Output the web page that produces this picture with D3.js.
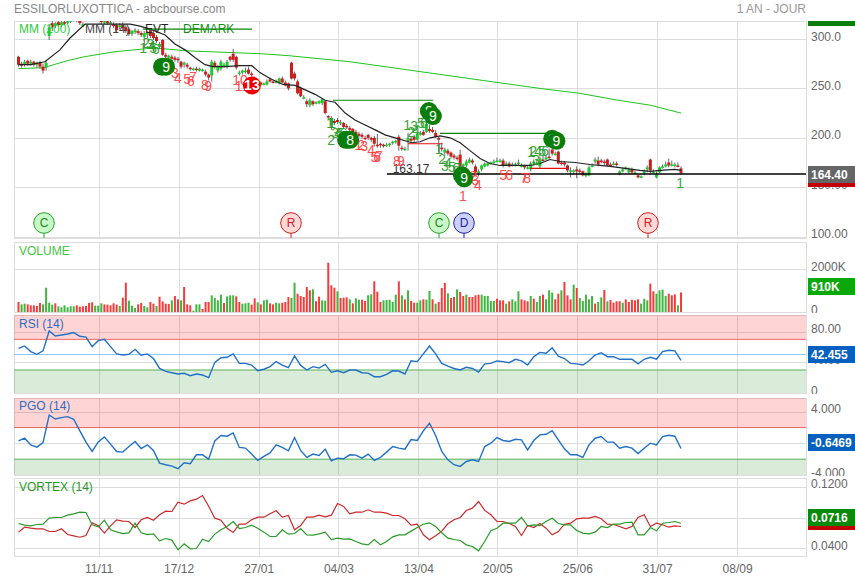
<!DOCTYPE html>
<html>
<head>
<meta charset="utf-8">
<script src="https://d3js.org/d3.v7.min.js"></script>
<style>
  body { margin: 0; background: #fff; }
  svg { display: block; font-family: "Liberation Sans", Arial, sans-serif; font-size: 12px; }
</style>
</head>
<body>
<svg id="chart" width="855" height="579"></svg>
<script>
// daily sessions
const opens = [
  282,275,274,278,275,277,274,276,272,271,
  303,316,313,317,314,317,316,318,320,321,
  319,313,322,326,327,325,326,319,317,318,
  316,315,314,312,315,312,310,305,307,308,
  306,302,305,309,306,302,292,299,284,281,
  282,281,280,277,274,274,271,270,270,268,
  268,267,264,263,276,268,270,273,272,282,
  285,282,265,266,267,269,265,260,256,256,
  254,254,259,257,256,255,260,256,255,276,
  265,257,250,241,237,233,237,236,235,235,
  237,222,213,217,218,216,215,212,210,209,
  206,204,203,200,203,200,200,193,194,193,
  193,193,195,196,201,190,189,197,199,201,
  198,203,206,206,209,208,205,200,190,185,
  187,185,182,180,183,172,172,175,177,171,
  164,168,171,172,174,175,176,177,177,174,
  174,172,173,174,172,172,170,168,174,175,
  171,178,178,181,188,184,186,175,175,172,
  167,166,168,167,166,162,162,171,176,177,
  177,176,178,173,173,174,164,166,168,165,
  168,165,162,160,166,168,178,166,160,165,
  170,171,175,173,172,172,169]
const closes = [
  274,273,277,275,277,274,276,272,268,276,
  312,312,316,314,317,316,318,319,322,319,
  316,315,324,328,325,327,323,317,318,316,
  317,313,309,314,311,308,305,308,309,306,
  304,306,306,303,301,298,295,284,282,283,
  280,279,279,272,276,272,270,270,269,270,
  269,264,261,277,272,272,277,274,277,279,
  279,271,266,268,268,265,264,258,255,254,
  255,257,257,256,257,260,256,253,250,260,
  260,245,242,241,234,238,234,236,237,239,
  225,221,220,215,216,216,211,211,208,204,
  203,202,201,199,200,198,194,192,193,192,
  193,194,196,197,192,189,189,200,197,198,
  204,205,203,214,207,206,201,198,189,188,
  184,181,180,179,171,173,176,178,175,165,
  166,172,174,174,175,176,177,177,172,174,
  171,173,173,175,172,170,170,174,176,175,
  179,177,180,180,184,184,174,174,173,167,
  167,167,166,166,162,163,170,172,178,173,
  176,175,172,172,174,173,166,168,170,168,
  165,165,160,161,166,170,167,166,163,170,
  171,173,172,173,173,171,164.4]
const highs = [
  283,277,279,279,279,278,277,278,275,278,
  314,318,317,319,318,319,320,322,324,323,
  322,317,327,330,330,329,328,320,320,320,
  319,317,316,316,317,314,312,309,311,310,
  308,308,308,311,308,304,297,300,286,284,
  284,283,282,278,277,276,272,271,272,271,
  270,269,265,279,278,274,279,276,279,283,
  290,283,268,269,271,272,267,262,258,257,
  256,259,261,258,259,261,262,258,256,277,
  267,259,252,243,239,240,238,237,238,240,
  238,223,222,219,220,218,216,214,212,210,
  208,206,205,202,204,201,202,204,195,194,
  195,195,197,198,203,192,191,205,201,203,
  206,207,208,224,213,211,208,201,195,190,
  189,186,184,182,188,174,178,180,179,173,
  168,173,175,175,176,178,180,179,179,176,
  176,175,175,178,174,173,172,176,178,178,
  181,182,182,189,191,186,187,177,176,173,
  170,168,171,169,167,165,172,174,180,181,
  179,178,179,175,176,176,167,170,171,170,
  170,167,163,162,168,172,179,168,166,171,
  173,176,179,177,175,175,171]
const lows = [
  272,271,272,273,273,272,271,270,265,268,
  299,308,311,312,312,314,315,316,318,317,
  314,312,320,324,323,322,320,315,315,314,
  315,311,307,310,309,306,303,303,305,304,
  302,292,301,301,299,296,290,283,278,279,
  277,277,276,270,271,270,268,268,267,267,
  267,262,258,257,270,266,268,271,270,277,
  277,269,263,264,265,264,262,256,253,253,
  253,253,256,255,255,254,255,252,248,259,
  258,244,241,239,231,231,232,234,234,233,
  224,218,208,213,214,213,209,209,206,203,
  202,200,199,198,198,196,191,190,190,190,
  191,191,193,194,187,187,187,187,195,196,
  197,202,202,205,205,205,200,185,186,183,
  182,179,178,177,170,169,170,174,173,163,
  161,166,170,171,173,174,175,175,170,172,
  170,171,171,172,170,168,168,166,172,173,
  169,176,177,178,182,182,173,172,171,165,
  160,163,159,163,161,160,161,170,174,171,
  174,172,171,171,172,171,162,165,168,164,
  163,163,159,159,162,165,163,164,159,164,
  169,170,170,171,170,170,163]

// volume in thousands, with the colour of each bar (R/G)
const volumes = [
  465,356,388,356,310,310,279,418,356,1130,
  434,341,403,264,217,310,217,264,264,310,
  248,264,279,418,450,295,295,403,356,341,
  310,403,341,279,667,1364,527,295,186,356,
  418,279,217,465,388,279,713,496,388,372,
  542,744,589,542,1162,356,310,62,356,356,
  140,465,465,775,651,542,806,418,728,775,
  775,728,465,388,403,434,341,635,450,356,
  542,573,403,356,434,403,434,465,697,651,
  1364,852,744,697,1162,1007,1054,496,713,542,
  527,2294,1240,1131,961,651,667,682,589,403,
  635,573,573,511,775,821,1426,945,465,542,
  558,573,465,806,1426,775,589,1007,511,434,
  434,542,589,573,976,589,388,465,1116,1349,
  868,651,697,1054,930,744,806,697,697,775,
  806,806,744,744,512,512,620,542,542,388,
  496,589,496,961,589,542,496,744,620,465,
  744,806,589,1007,899,589,852,1007,1395,775,
  589,1271,1116,651,512,806,589,744,388,465,
  682,1023,496,558,434,496,496,434,589,465,
  573,542,589,388,620,542,1318,961,852,1007,
  1038,744,852,775,821,310,910]
const volumeSides =
  "RGGRRRRRGG" + "GGRGGGGGGR" + "RRRRRGGGRR" + "RRRGRRGGGR" +
  "RGGRRGRRRR" + "GRRGRRRGGG" + "RRRGGGGRGG" + "GRRGGGRRGR" +
  "GGRRGGRRRG" + "GRRRRRGRRG" + "GRRRGRRRGR" + "GGRRGGRRRG" +
  "GGGGRGRGRR" + "GGRGG" +
  "RGRRRGRRGR" + "RGRRRRGGGG" + "GRRRGRGGGR" + "RRGRGGRGGG" +
  "RRGRRRGRGG" + "GGGRGGRGRR" + "RRGRRRRRGG" + "GRRGGGGRRR" + "GR"

// indicators, one reading every second session
const rsi = [
  58.3,61.4,54,50.5,55,81,74.4,75.7,77,78.8,74,73,60.5,68.3,70,60.5,51,49.6,50.5,57,
  49.2,51,45,32,28.3,26.5,24.8,25.7,22.6,24.8,23.5,20,40,46,46.6,51,38.7,38.7,36.5,29,
  31,34.4,41,36.5,33,48.3,36,30,34.4,32.6,37.4,27,29,26.5,30,30,26.5,26,21.3,21.3,
  24.4,29,28.7,24.8,42,41,51,61.4,51,38.7,35,32,30,33.5,32,27.4,38,38.7,41.8,41,
  39.6,44,42,36.5,47.4,53,51.8,59,48,45,38.7,38,36.5,42,49.6,52.6,47.4,47.4,44,44,
  44,38,44,46.6,44,54,55.7,55,42.455]
const pgo = [
  0.31,0.65,-0.19,-0.48,0.1,3.58,3.08,3.25,3.38,3.04,1.57,0.15,-1.03,0.19,0.82,-0.1,-1.03,-1.11,-0.4,0.23,
  -0.65,-0.19,-0.9,-2.49,-2.7,-2.87,-3.2,-2.45,-2.58,-1.45,-1.45,-2,0.31,0.99,0.9,1.32,-0.52,-0.6,-1.36,-2.16,
  -1.65,-1.2,-0.19,-0.52,-0.94,0.73,-0.9,-1.78,-1.36,-1.53,-0.73,-2.2,-1.87,-1.95,-1.45,-1.49,-1.87,-1.36,-2.16,-1.78,
  -1.11,-0.4,-0.61,-0.73,0.48,0.36,1.57,2.54,0.99,-1.03,-2.08,-2.7,-2.91,-2.29,-2.08,-2.29,-0.4,0.02,0.73,0.36,
  0.23,0.52,0.44,-0.82,0.36,1.07,1.15,1.61,0.44,-0.69,-1.45,-1.45,-1.78,-0.19,0.65,0.86,0.15,0.15,-0.61,-0.4,
  -0.61,-1.28,-0.61,0.02,-0.19,0.86,1.03,0.9,-0.6469]
const vortexPlus = [
  .0722,.0700,.0692,.0709,.0713,.0791,.0800,.0800,.0830,.0848,.0869,.0865,.0705,.0679,.0765,.0640,.0614,.0592,.0601,.0726,
  .0601,.0579,.0588,.0497,.0527,.0506,.0380,.0458,.0393,.0397,.0519,.0488,.0584,.0640,.0683,.0748,.0657,.0670,.0700,.0661,
  .0610,.0553,.0553,.0640,.0584,.0592,.0657,.0575,.0571,.0588,.0610,.0514,.0532,.0519,.0523,.0488,.0458,.0445,.0514,.0445,
  .0488,.0549,.0575,.0575,.0623,.0670,.0713,.0731,.0683,.0601,.0532,.0514,.0501,.0445,.0423,.0367,.0488,.0627,.0661,.0726,
  .0726,.0726,.0800,.0692,.0705,.0696,.0748,.0791,.0722,.0705,.0705,.0631,.0597,.0588,.0610,.0683,.0670,.0713,.0713,.0735,
  .0739,.0575,.0575,.0670,.0627,.0726,.0735,.0748,.0725]
const vortexMinus = [
  .0610,.0674,.0661,.0653,.0653,.0618,.0618,.0653,.0579,.0562,.0544,.0566,.0731,.0692,.0597,.0692,.0770,.0752,.0748,.0670,
  .0770,.0800,.0765,.0835,.0882,.0878,.0999,.0973,.1016,.1038,.1086,.0947,.0791,.0765,.0661,.0605,.0713,.0713,.0770,.0804,
  .0804,.0848,.0887,.0804,.0826,.0640,.0696,.0804,.0804,.0830,.0809,.0830,.0982,.0943,.0848,.0869,.0869,.0900,.0869,.0869,
  .0856,.0826,.0826,.0783,.0700,.0713,.0575,.0510,.0562,.0623,.0718,.0770,.0800,.0891,.0921,.1008,.0892,.0835,.0748,.0748,
  .0722,.0683,.0566,.0696,.0670,.0722,.0661,.0575,.0618,.0713,.0726,.0783,.0791,.0791,.0813,.0783,.0713,.0709,.0683,.0653,
  .0683,.0800,.0835,.0683,.0726,.0705,.0674,.0692,.0683]

// moving averages: session, value
const mm14Bars = [0,4,8.6,13.5,16.8,21.7,36.4,39.6,42.9,47.8,51,54.3,57.6,60.8,63.4,67.3,72.2,76.1,78.7,82,86.2,90.2,92.4,96.7,100,103.2,106.5,109.7,113,116.3,119.5,122.8,126,128.3,130.9,134.2,137.5,140.7,144,147.2,150.5,153.7,157,161.9,166.8,170,173.3,176.6,181.5,186.3,189.6,192.9,197.8,202.6,205.9,209.2,214,216]
const mm14Values = [274,274,277,289,301,315,315,313,310,304,295,289,281,274,272,272,273,273,266,260,254,253,250,244,238,236,225,218,213,208,203,200,197,195,196,200,202,200,195,187,179,174,172,172,172,174,178,176,175,173,172,171,169,167,166,167,168,167]
const mm200Bars = [0,8.3,15.8,21.4,31.1,44.2,54.9,79.7,88.5,108,130.9,151.5,170,183,195.5,206,216]
const mm200Values = [270,271,278,282,287,291,288,285,283,277,267,258,250,245,238,233,225]

// demark counts
const demarkTexts = ["1","2","3","4","5","6","1","1","2","3","4","5","6","1","2","3","4","5","6","1","2","3","4","5","6","7","1","2","3","4","5","6","1"]
const demarkBars = [40.6,41.6,42.9,43.5,43.9,44.8,101.6,102.3,101.9,103.2,104.2,104.9,105.9,126.7,128,129,129.6,131.2,132.2,137.1,138.1,139,140,141.3,142.7,143.3,167.1,167.8,168.8,169.4,170.7,171.7,215.7]
const demarkPrices = [291,296,295,293,291,290,215,215,198,205,205,205,205,213,206,212,208,215,215,189,179,172,175,170,169,169,186,187,178,187,187,187,154]
const sellTexts = ["2","3","4","5","6","7","8","9","10","11","1","2","3","4","5","6","7","8","9","1","2","3","4","5","6","7","8"]
const sellBars = [49.7,51,52,55,56.2,56.9,60.8,61.8,72.2,72.9,110.7,111.7,112.7,115,116,116.9,117.5,123.4,124.7,144.9,148.2,148.9,149.8,158,160,164.8,165.8]
const sellPrices = [272,266,261,260,258,262,253,252,259,252,193,193,192,188,181,181,182,177,177,141,161,157,152,162,162,159,159]
const bubbleTexts = ["8","9","13","7","8","8","9","8","9","8","9"]
const bubbleBars = [46.8,48.1,76.1,106.8,108.1,133.8,135.1,144.6,145.3,174,175.4]
const bubblePrices = [272,272,253,198,198,227,222,162,159,199,197]
const levelBars = [[40.6,76.1],[102.5,135.2],[137.4,172.3],[127,138.3],[166.8,179.2]]
const levelPrices = [310,238,204.4,194,169]
const levelColors = ["#0a850a","#0a850a","#0a850a","#e01010","#e01010"]

const supportPrice = 163.17
const eventTexts = ["C","R","C","D","R"]
const eventBars = [8.3,88.8,137.1,145.3,205.3]

const dateLabels = ["11/11","17/12","27/01","04/03","13/04","20/05","25/06","31/07","08/09"]
const dateBars = [26.1,52.2,78.3,104.3,130.4,156.1,182.2,208.2,234.3]

const svg = d3.select("#chart")
const left = 14, right = 806

let x = d3.scaleLinear().domain([0, 216]).range([18.5, 681])
let yPrice = d3.scaleLinear().domain([100, 300]).range([236.6, 39])
let yVolume = d3.scaleLinear().domain([0, 2000]).range([312, 269])
let yRsi = d3.scaleLinear().domain([0, 80]).range([393, 331.7])
let yPgo = d3.scaleLinear().domain([-4, 4]).range([475, 411.7])
let yVortex = d3.scaleLinear().domain([0.04, 0.12]).range([548.3, 486.7])

svg.append("clipPath").attr("id", "plot").append("rect")
    .attr("x", left).attr("y", 21).attr("width", right - left).attr("height", 217)

function panel(top, bottom, y, ticks, fmt) {
    let g = svg.append("g")
    // vertical grid
    g.append("g").attr("transform", "translate(0," + bottom + ")")
        .call(d3.axisBottom(x).tickValues(dateBars).tickSize(bottom - top).tickFormat(""))
        .call(a => a.select(".domain").remove())
        .call(a => a.selectAll(".tick").attr("transform", d => "translate(" + (Math.round(x(d)) + 0.5) + ",0)"))
        .call(a => a.selectAll("line").attr("y2", top - bottom).attr("stroke", "#ddd"))
    // horizontal grid
    g.append("g").attr("transform", "translate(" + right + ",0)")
        .call(d3.axisLeft(y).tickValues(ticks).tickSize(right - left).tickFormat(""))
        .call(a => a.select(".domain").remove())
        .call(a => a.selectAll(".tick").attr("transform", d => "translate(0," + (Math.round(y(d)) + 0.5) + ")"))
        .call(a => a.selectAll("line").attr("stroke", "#ddd"))
    g.append("rect").attr("x", left + 0.5).attr("y", top + 0.5)
        .attr("width", right - left).attr("height", bottom - top)
        .attr("fill", "none").attr("stroke", "#ddd")
    // right labels, cut at the panel edge
    let clipId = "labels" + top
    svg.append("clipPath").attr("id", clipId).append("rect")
        .attr("x", right).attr("y", top - 3).attr("width", 60).attr("height", bottom - top + 4)
    let wrap = svg.append("g").attr("clip-path", "url(#" + clipId + ")")
    wrap.append("g").attr("transform", "translate(" + right + ",0)")
        .call(d3.axisRight(y).tickValues(ticks).tickSize(0).tickPadding(5).tickFormat(fmt))
        .call(a => a.select(".domain").remove())
        .call(a => a.selectAll("text").attr("y", -2.7).attr("fill", "#666").attr("font-size", 12).attr("font-family", "Liberation Sans"))
    return g
}

function bands(top, bottom, y, high, low) {
    svg.append("rect").attr("x", left).attr("y", top).attr("width", right - left).attr("height", y(high) - top)
        .attr("fill", "#ff0000").attr("opacity", 0.17)
    svg.append("rect").attr("x", left).attr("y", y(low)).attr("width", right - left).attr("height", bottom - y(low))
        .attr("fill", "#008000").attr("opacity", 0.15)
    svg.append("line").attr("x1", left).attr("x2", right).attr("y1", y(high)).attr("y2", y(high)).attr("stroke", "#f06868")
    svg.append("line").attr("x1", left).attr("x2", right).attr("y1", y(low)).attr("y2", y(low)).attr("stroke", "#58b058")
}

function label(text, px, py, color) {
    return svg.append("text").attr("x", px).attr("y", py).attr("fill", color).text(text)
}

function drawLine(values, color, width, g) {
    let line = d3.line().x((d, i) => x(i * 2)).y(d => g(d))
    svg.append("path").datum(values).attr("d", line).attr("fill", "none").attr("stroke", color).attr("stroke-width", width)
}

function priceBox(top, h, text, color, stripColor) {
    svg.append("rect").attr("x", 808).attr("y", top).attr("width", 47).attr("height", h).attr("fill", color)
    if (stripColor) svg.append("rect").attr("x", 808).attr("y", top + h).attr("width", 47).attr("height", 4).attr("fill", stripColor)
    if (text) svg.append("text").attr("x", 811).attr("y", top + h / 2 + 4.3).attr("fill", "#fff")
        .attr("font-weight", "bold").attr("font-size", 12).text(text)
}

// header
label("ESSILORLUXOTTICA - abcbourse.com", 14, 13, "#888")
label("1 AN - JOUR", right, 13, "#999").attr("text-anchor", "end")

// ---- main panel
panel(21, 238, yPrice, [100, 150, 200, 250, 300], d => d >= 200 ? d.toFixed(1) : d.toFixed(2))
svg.append("line").attr("x1", left).attr("x2", right).attr("y1", 238).attr("y2", 238).attr("stroke", "#ddd").attr("stroke-width", 2)

let plot = svg.append("g").attr("clip-path", "url(#plot)")

plot.append("path").datum(mm200Values)
    .attr("d", d3.line().x((d, i) => x(mm200Bars[i])).y(d => yPrice(d)))
    .attr("fill", "none").attr("stroke", "#1ec41e").attr("stroke-width", 1)

plot.selectAll("line.wick").data(opens).enter().append("line").attr("class", "wick")
    .attr("x1", (d, i) => x(i)).attr("x2", (d, i) => x(i))
    .attr("y1", (d, i) => yPrice(highs[i])).attr("y2", (d, i) => yPrice(lows[i]))
    .attr("stroke", "#666").attr("stroke-width", 1)
plot.selectAll("rect.body").data(opens).enter().append("rect").attr("class", "body")
    .attr("x", (d, i) => x(i) - 1.5).attr("width", 3)
    .attr("y", (d, i) => yPrice(Math.max(d, closes[i])))
    .attr("height", (d, i) => Math.max(1.5, Math.abs(yPrice(d) - yPrice(closes[i]))))
    .attr("fill", (d, i) => closes[i] >= d ? "#1ecb2e" : "#c81e1e")

plot.append("path").datum(mm14Values)
    .attr("d", d3.line().x((d, i) => x(mm14Bars[i])).y(d => yPrice(d)))
    .attr("fill", "none").attr("stroke", "#222").attr("stroke-width", 1.2)

plot.selectAll("line.level").data(levelPrices).enter().append("line").attr("class", "level")
    .attr("x1", (d, i) => x(levelBars[i][0])).attr("x2", (d, i) => x(levelBars[i][1]))
    .attr("y1", d => yPrice(d)).attr("y2", d => yPrice(d))
    .attr("stroke", (d, i) => levelColors[i]).attr("stroke-width", 1.2)

plot.append("line").attr("x1", x(120.1)).attr("x2", right)
    .attr("y1", Math.round(yPrice(supportPrice))).attr("y2", Math.round(yPrice(supportPrice)))
    .attr("stroke", "#000").attr("stroke-width", 1.5)
plot.append("text").attr("x", x(122)).attr("y", yPrice(supportPrice) - 1).attr("fill", "#333").text(supportPrice.toFixed(2))

function counts(texts, bars, prices, color) {
    plot.selectAll(null).data(texts).enter().append("text")
        .attr("x", (d, i) => x(bars[i])).attr("y", (d, i) => yPrice(prices[i]))
        .attr("dy", "0.36em").attr("text-anchor", "middle").attr("font-size", 14)
        .attr("fill", color).attr("opacity", 0.9).text(d => d)
}
counts(demarkTexts, demarkBars, demarkPrices, "#2a9a2a")
counts(sellTexts, sellBars, sellPrices, "#ff3c3c")

bubbleTexts.forEach((t, i) => {
    let cx = x(bubbleBars[i]), cy = yPrice(bubblePrices[i])
    plot.append("circle").attr("cx", cx).attr("cy", cy).attr("r", 9).attr("fill", t == "13" ? "#ee0000" : "#0a7d0a")
    plot.append("text").attr("x", cx).attr("y", cy).attr("dy", "0.36em").attr("text-anchor", "middle")
        .attr("fill", "#fff").attr("font-size", 14).attr("font-weight", t == "13" ? "bold" : "normal").text(t)
})

// legend
label("MM (200)", 19, 33, "#2ecc40")
label("MM (14)", 85, 33, "#444")
label("EVT", 145, 33, "#222")
label("DEMARK", 183, 33, "#0f8f0f")

// events at the foot of the panel
const eventStyle = {
    C: ["#c8f7c8", "#2aa52a", "#1a8a1a"],
    R: ["#ffd8d8", "#d02020", "#d02020"],
    D: ["#ccd2f6", "#2222aa", "#2222aa"]
}
eventTexts.forEach((t, i) => {
    let cx = Math.round(x(eventBars[i])), s = eventStyle[t]
    svg.append("line").attr("x1", cx).attr("x2", cx).attr("y1", 233).attr("y2", 238).attr("stroke", s[1])
    svg.append("circle").attr("cx", cx).attr("cy", 223).attr("r", 10.3).attr("fill", s[0]).attr("stroke", s[1])
    svg.append("text").attr("x", cx).attr("y", 223).attr("dy", "0.36em").attr("text-anchor", "middle").attr("fill", s[2]).text(t)
})

priceBox(21, 5, "", "#0a7d0a")
priceBox(166, 17, "164.40", "#666", "#c00000")

// ---- volume
panel(242, 312, yVolume, [0, 2000], d => d ? d + "K" : "0")
svg.selectAll("rect.vol").data(volumes).enter().append("rect").attr("class", "vol")
    .attr("x", (d, i) => x(i) - 1).attr("width", 2)
    .attr("y", d => yVolume(d)).attr("height", d => yVolume(0) - yVolume(d))
    .attr("fill", (d, i) => volumeSides[i] == "G" ? "#3fb63f" : "#f43c3c")
label("VOLUME", 19, 255, "#44c444")
priceBox(278, 17, "910K", "#0aa80a")

// ---- rsi
panel(315, 393, yRsi, [0, 40, 80], d => d ? d.toFixed(2) : "0")
bands(315, 393, yRsi, 70, 30)
svg.append("line").attr("x1", left).attr("x2", right).attr("y1", 354.5).attr("y2", 354.5).attr("stroke", "#90c8ff")
drawLine(rsi, "#2270c8", 1.4, yRsi)
label("RSI (14)", 19, 328, "#2a6fc0")
priceBox(346, 17, "42.455", "#0560c0")

// ---- pgo
panel(398, 475, yPgo, [-4, 0, 4], d => d.toFixed(3))
bands(398, 475, yPgo, 2, -2)
drawLine(pgo, "#2270c8", 1.4, yPgo)
label("PGO (14)", 19, 410, "#2a6fc0")
priceBox(434, 17, "-0.6469", "#0560c0")

// ---- vortex
panel(478, 556, yVortex, [0.04, 0.08, 0.12], d => d.toFixed(4))
drawLine(vortexMinus, "#cc2a2a", 1.2, yVortex)
drawLine(vortexPlus, "#2a9a2a", 1.2, yVortex)
label("VORTEX (14)", 19, 491, "#1f9a1f")
priceBox(509, 17, "0.0716", "#0a8a0a", "#c00000")

// dates
svg.append("g").attr("transform", "translate(0,556)")
    .call(d3.axisBottom(x).tickValues(dateBars).tickSize(0).tickPadding(8).tickFormat((d, i) => dateLabels[i]))
    .call(a => a.select(".domain").remove())
    .call(a => a.selectAll("text").attr("fill", "#666").attr("font-size", 12).attr("font-family", "Liberation Sans"))
</script>
</body>
</html>
